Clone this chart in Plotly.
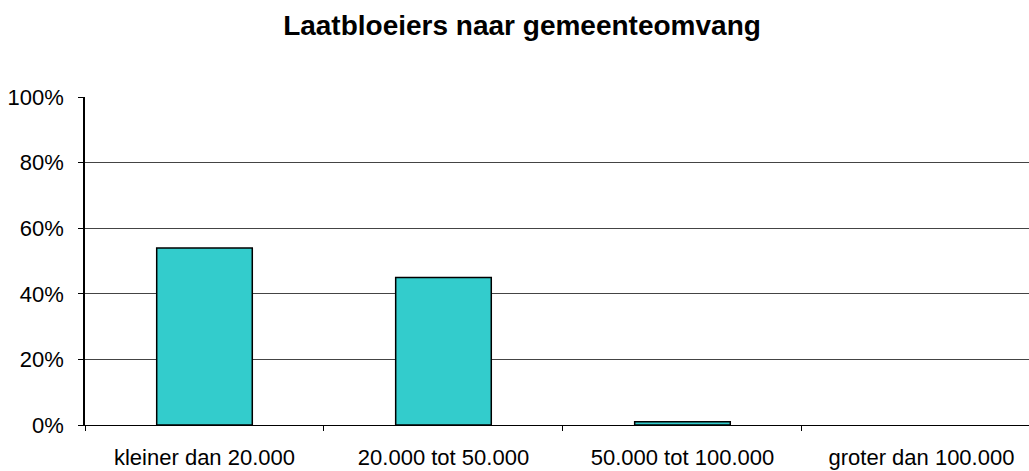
import plotly.graph_objects as go

categories = ["kleiner dan 20.000", "20.000 tot 50.000", "50.000 tot 100.000", "groter dan 100.000"]
shares = [0.54, 0.45, 0.01, 0.0]
y_ticks = [0, 0.2, 0.4, 0.6, 0.8, 1.0]
y_tick_labels = ["0%", "20%", "40%", "60%", "80%", "100%"]

# empty categories get no outline, like the original
outline = [1.5 if v > 0 else 0 for v in shares]

fig = go.Figure()
fig.add_trace(go.Bar(
    x=categories, y=shares,
    width=0.4,
    marker=dict(color="#33CCCC", line=dict(color="black", width=outline)),
    showlegend=False,
))

fig.update_layout(
    width=1029, height=471,
    margin=dict(l=85, r=0, t=97, b=46),
    plot_bgcolor="white", paper_bgcolor="white",
    font=dict(family="Liberation Sans, Arial, sans-serif", size=22, color="black"),
    title=dict(text="<b>Laatbloeiers naar gemeenteomvang</b>",
               x=522 / 1029, xanchor="center", y=1 - 25 / 471, yanchor="middle",
               yref="container", font=dict(size=28)),
)
fig.update_xaxes(
    range=[-0.5, 3.45],
    showline=True, linecolor="black", linewidth=1,
    ticks="outside", tickson="boundaries", ticklen=5, tickcolor="black",
    ticklabelstandoff=13,
    showgrid=False,
)
fig.update_yaxes(
    range=[0, 1.0],
    tickvals=y_ticks, ticktext=y_tick_labels,
    showline=True, linecolor="black", linewidth=1.5,
    ticks="outside", ticklen=5, tickcolor="black",
    ticklabelstandoff=10,
    showgrid=True, gridcolor="#444444", gridwidth=1,
    zeroline=False,
)

fig.write_html("out.html", config={"displayModeBar": False},
               post_script="document.body.style.margin='0';")
